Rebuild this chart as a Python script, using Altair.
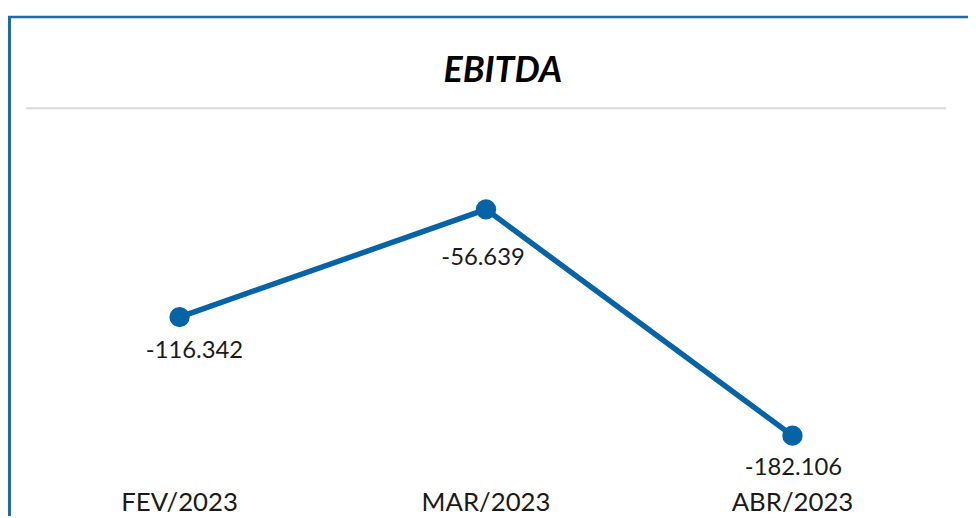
import altair as alt
import pandas as pd

# Data
months = ["FEV/2023", "MAR/2023", "ABR/2023"]
ebitda = [-116342, -56639, -182106]
title_text = "EBITDA"

labels = [f"{v:,}".replace(",", ".") for v in ebitda]
df = pd.DataFrame({"mes": months, "valor": ebitda, "rotulo": labels})

LINE = "#0563a6"
FRAME = "#1f6aa6"
FONT = "Lato"

W, H = 968, 510

x_enc = alt.X("mes:N", sort=months, axis=None,
              scale=alt.Scale(type="point", range=[173, 791], padding=0))
y_enc = alt.Y("valor:Q", axis=None,
              scale=alt.Scale(domain=[-220000, 0], range=[498, 98], nice=False, zero=False))

base = alt.Chart(df)

line = base.mark_line(color=LINE, strokeWidth=5.5).encode(x=x_enc, y=y_enc)
points = base.mark_circle(color=LINE, size=420, opacity=1).encode(x=x_enc, y=y_enc)

label_style = {"FEV/2023": (15, 41), "MAR/2023": (-3, 56), "ABR/2023": (1, 40)}
label_layers = []
for m in months:
    dx, dy = label_style[m]
    label_layers.append(
        base.transform_filter(alt.datum.mes == m)
        .mark_text(font=FONT, fontSize=24, color="#1a1a1a", baseline="alphabetic",
                   align="center", dx=dx, dy=dy)
        .encode(x=x_enc, y=y_enc, text="rotulo:N")
    )

xlabels = base.mark_text(font=FONT, fontSize=26, color="#1a1a1a",
                         baseline="alphabetic", align="center").encode(
    x=x_enc, y=alt.value(505), text="mes:N")

title = alt.Chart(pd.DataFrame({"t": [title_text]})).mark_text(
    font=FONT, fontSize=36, fontWeight="bold", fontStyle="italic",
    color="#000000", baseline="alphabetic", align="center").encode(
    x=alt.value(499), y=alt.value(72), text="t:N")

deco = pd.DataFrame({"k": [0]})
top_rule = alt.Chart(deco).mark_rule(color=FRAME, strokeWidth=2.5).encode(
    x=alt.value(0), x2=alt.value(W), y=alt.value(7))
left_rule = alt.Chart(deco).mark_rule(color=FRAME, strokeWidth=3).encode(
    x=alt.value(1.5), y=alt.value(6), y2=alt.value(H))
gray_rule = alt.Chart(deco).mark_rule(color="#d9d9d9", strokeWidth=2).encode(
    x=alt.value(18), x2=alt.value(946), y=alt.value(99))

chart = alt.layer(top_rule, left_rule, gray_rule, title, line, points,
                  *label_layers, xlabels).properties(
    width=W, height=H,
    autosize=alt.AutoSizeParams(type="none"),
    padding=0,
    background="#ffffff",
).configure_view(stroke=None)

chart.save("out.html", embed_options={"renderer": "svg", "actions": False})
